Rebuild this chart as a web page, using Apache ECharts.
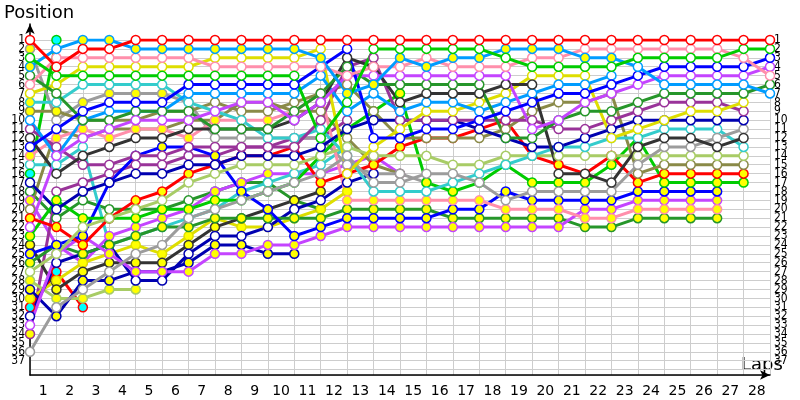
<!DOCTYPE html>
<html><head><meta charset="utf-8">
<script src="https://cdn.jsdelivr.net/npm/echarts@6/dist/echarts.min.js"></script>
<style>html,body{margin:0;padding:0;background:#fff}#c{width:800px;height:400px}</style>
</head><body><div id="c"></div>
<script>
// lap labels (x axis) and position labels (y axes)
const lapLabels = ['1','2','3','4','5','6','7','8','9','10','11','12','13','14','15','16','17','18','19','20','21','22','23','24','25','26','27','28'];
const posLabels = ['1','2','3','4','5','6','7','8','9','10','11','12','13','14','15','16','17','18','19','20','21','22','23','24','25','26','27','28','29','30','31','32','33','34','35','36','37'];

// positions per lap (index 0 = start grid), arrays end when the driver stops
const red1    = [1,4,2,2,1,1,1,1,1,1,1,1,1,1,1,1,1,1,1,1,1,1,1,1,1,1,1,1,1];
const green1  = [3,5,5,5,5,5,5,5,5,5,5,12,8,2,2,2,2,2,3,4,4,4,4,3,3,3,3,2,2];
const lblue1  = [4,2,1,1,2,2,2,2,2,2,2,3,7,6,3,4,3,3,2,2,2,3,3,4,6,6,6,6,7];
const pink1   = [6,3,3,3,3,3,3,4,4,4,4,4,5,4,4,3,4,4,4,3,3,2,2,2,2,2,2,3,5];
const yellow1 = [7,6,4,4,4,4,4,3,3,3,3,2,16,13,11,9,9,8,7,5,5,5,12,11,10,9,9,8];
const blue1   = [13,11,9,8,8,8,6,6,6,6,6,4,2,12,12,11,11,10,9,8,7,7,6,5,4,4,4,4,3];
const violet1 = [22,14,12,11,10,10,10,9,8,8,10,8,5,5,5,5,5,5,5,11,10,8,7,6,5,5,5,5,4];
const pink2   = [14,12,11,12,11,11,12,10,10,10,9,7,19,19,19,19,19,19,20,20,20,21,21,20,20,20,20];
const forest1 = [5,7,10,10,9,9,9,11,11,11,9,7,4,6,6,6,6,6,12,12,10,9,9,8,7,7,7,7,6];
const lblue2  = [10,14,10,9,9,9,7,7,7,7,7,5,9,7,9,8,8,9,8,7,6,6,5];
const dgray1  = [12,16,14,13,12,12,11,11,11,11,10,8,3,4,8,7,7,7,6,6,16,16,17,13,12,12,13,12];
const dpurple1= [11,13,15,15,14,14,13,13,13,13,13,10,4,3,10,10,10,10,10,10,11,11,10,9,8,8,8,9];
const navy1   = [17,20,18,17,16,16,15,15,14,14,14,13,11,10,10,10,10,11,12,13,13,12,11,10,10,10,10,10];
const gray2   = [36,31,29,27,25,24,21,20,19,18,17,16,14,17,17,16,16,17,19,18,18,18,18,15,13,13,12,11];
const teal1   = [8,8,6,6,6,6,8,9,10,12,12,11,14,18,18,18,17,16,15,14,13,13,12,12,11,11,11,13];
const lgreen1 = [27,25,22,21,20,19,17,16,15,15,15,14,13,14,14,14,15,15,14,14,14,14,14,14,14,14,14,14];
const olive1  = [9,9,10,10,10,9,9,8,9,9,8,7,6,9,12,12,12,12,11,9,8,8,7,16,15,15,15,15];
const red2    = [21,22,24,21,19,18,16,15,14,14,13,17,16,15,13,12,12,11,10,14,15,16,14,17,16,16,16,16];
const green2  = [23,19,21,21,21,20,20,19,19,18,17,14,11,9,7,17,18,17,15,17,17,17,15,12,17,17,17,17];
const blue2   = [25,24,23,17,14,13,13,14,18,20,23,22,21,21,21,21,20,20,18,19,19,19,19,18,18,18,18];
const violet2 = [33,25,23,25,27,27,27,25,25,24,24,23,22,22,22,22,22,22,22,22,22,20,20,19,19,19,19];
const forest2 = [26,24,25,24,23,22,22,21,21,21,21,21,20,20,20,20,21,21,21,21,21,22,22,21,21,21,21];
const navy2   = [29,32,28,28,27,27,26,24,24,25,25];
const navy3   = [32,26,25,24,28,28,25,23,23,22,20,19,17,16];
const dgray2  = [24,29,27,26,26,26,24,22,21,20,19,18];
const yellow2 = [30,28,26,25,24,25,23,21,22,22,21,20,18];
const gray1   = [2,10,8,7,7,7,8,12,12,12,12,12,15,16,16,17];
const lgreen2 = [28,30,30,29,29];
const red3    = [31,27,31];
const dpurple2= [34,18,17,16,15,15,14,14,13,13,12,12,10];
const green3  = [16,1];
const teal2   = [15,15,13,24,23,22,21,20,18,17,16,15,13];
const olive2  = [20,11,12,11,11,11,10,10,8,8,9,9,12,15,16];
const violet3 = [19,24,26,23,22,21,20,18,17,16,16,16,15,14,16];
const forest3 = [18,21,19,20,20,20,19,18,17,17,19,20];

// marker fill per lap: w = white, y = yellow, c = cyan (last letter repeats)
const fills = {
  red1:'w', green1:'w', lblue1:'ywyyyyyyyyyyyyyyyyyyyyyw', pink1:'w', yellow1:'w', blue1:'w',
  violet1:'w', pink2:'y', forest1:'w', lblue2:'w', dgray1:'w', dpurple1:'w', navy1:'w', gray2:'w',
  teal1:'yw', lgreen1:'w', olive1:'yyw', red2:'y', green2:'y', blue2:'y', violet2:'wy', forest2:'y',
  navy2:'y', navy3:'w', dgray2:'y', yellow2:'y', gray1:'ywyyyyw', lgreen2:'y', red3:'c', dpurple2:'yw',
  green3:'c', teal2:'w', olive2:'w', violet3:'y', forest3:'w'
};

const C = {red:'#ff0000', lblue:'#009cff', pink:'#ff8fab', yellow:'#dede00', green:'#00cc00', teal:'#33cccc',
  gray:'#9c9c9c', blue:'#0000ff', olive:'#8a8a48', violet:'#c444ff', dgray:'#333333', dpurple:'#993399',
  lgreen:'#a8cc66', forest:'#26962a', navy:'#0000b0'};

const drivers = [
  ['forest3',C.forest,forest3],['violet3',C.violet,violet3],['olive2',C.olive,olive2],['teal2',C.teal,teal2],
  ['green3',C.green,green3],['dpurple2',C.dpurple,dpurple2],['red3',C.red,red3],['lgreen2',C.lgreen,lgreen2],
  ['gray1',C.gray,gray1],['yellow2',C.yellow,yellow2],['dgray2',C.dgray,dgray2],['navy3',C.navy,navy3],['navy2',C.navy,navy2],
  ['forest2',C.forest,forest2],['violet2',C.violet,violet2],['blue2',C.blue,blue2],['pink2',C.pink,pink2],
  ['green2',C.green,green2],['red2',C.red,red2],['olive1',C.olive,olive1],['lgreen1',C.lgreen,lgreen1],
  ['teal1',C.teal,teal1],['gray2',C.gray,gray2],['navy1',C.navy,navy1],['dpurple1',C.dpurple,dpurple1],
  ['yellow1',C.yellow,yellow1],['lblue2',C.lblue,lblue2],['dgray1',C.dgray,dgray1],['forest1',C.forest,forest1],
  ['violet1',C.violet,violet1],['blue1',C.blue,blue1],['pink1',C.pink,pink1],['lblue1',C.lblue,lblue1],
  ['green1',C.green,green1],['red1',C.red,red1]
];
const fillColor = {w:'#ffffff', y:'#ffff00', c:'#00ffff'};

const series = drivers.map(([name, color, pos]) => {
  const f = fills[name];
  return {
    type:'line', name, xAxisIndex:0, yAxisIndex:0,
    symbol:'circle', symbolSize:9, showAllSymbol:true, animation:false,
    lineStyle:{color, width:3}, itemStyle:{color:'#fff', borderColor:color, borderWidth:1.5},
    emphasis:{disabled:true},
    data: pos.map((p,i) => ({value:[i,p], itemStyle:{color: fillColor[f[Math.min(i,f.length-1)]], borderColor:color, borderWidth:1.5}}))
  };
});

const labelStyle = {color:'#000', fontSize:12, fontFamily:'DejaVu Sans Condensed, DejaVu Sans', interval:0};
const chart = echarts.init(document.getElementById('c'), null, {renderer:'canvas'});
chart.setOption({
  backgroundColor:'#fff',
  animation:false,
  grid:[
    {left:30, right:30, top:40, bottom:25},
    {left:30, right:30, top:24, bottom:25},
    {left:30, right:30, top:40, bottom:39.2}
  ],
  xAxis:[
    {type:'value', gridIndex:0, min:0, max:28, interval:1, position:'bottom',
     axisLine:{show:true, lineStyle:{color:'#000', width:1.5}, symbol:['none','arrow'], symbolSize:[7,10]},
     axisTick:{show:false}, axisLabel:{show:false},
     splitLine:{show:true, lineStyle:{color:'#cdcdcd', width:1}}},
    {type:'category', gridIndex:0, data:lapLabels, boundaryGap:true, position:'bottom',
     axisLine:{show:false}, axisTick:{show:false}, splitLine:{show:false},
     axisLabel:{color:'#000', fontSize:14, fontFamily:'DejaVu Sans', margin:9, interval:0}},
    {type:'value', gridIndex:1, show:false, min:0, max:1},
    {type:'value', gridIndex:2, show:false, min:0, max:1}
  ],
  yAxis:[
    {type:'value', gridIndex:0, inverse:true, min:1, max:38.6, interval:1, position:'left',
     axisLine:{show:false}, axisTick:{show:false}, axisLabel:{show:false},
     splitLine:{show:true, lineStyle:{color:'#cdcdcd', width:1}}},
    {type:'value', gridIndex:1, min:0, max:1, position:'left',
     axisLine:{show:true, lineStyle:{color:'#000', width:1.5}, symbol:['none','arrow'], symbolSize:[7,10]},
     axisTick:{show:false}, axisLabel:{show:false}, splitLine:{show:false}},
    {type:'category', gridIndex:2, inverse:true, data:posLabels, boundaryGap:false, position:'left',
     axisLine:{show:false}, axisTick:{show:false}, splitLine:{show:false},
     axisLabel:Object.assign({margin:5}, labelStyle)},
    {type:'category', gridIndex:2, inverse:true, data:posLabels, boundaryGap:false, position:'right',
     axisLine:{show:false}, axisTick:{show:false}, splitLine:{show:false},
     axisLabel:Object.assign({margin:4}, labelStyle)}
  ],
  graphic:[
    {type:'text', left:4, top:4, style:{text:'Position', font:'18px "DejaVu Sans"', fill:'#000'}},
    {type:'text', left:741, top:356, style:{text:'Laps', font:'18px "DejaVu Sans"', fill:'#000'}}
  ],
  series
});
</script></body></html>
